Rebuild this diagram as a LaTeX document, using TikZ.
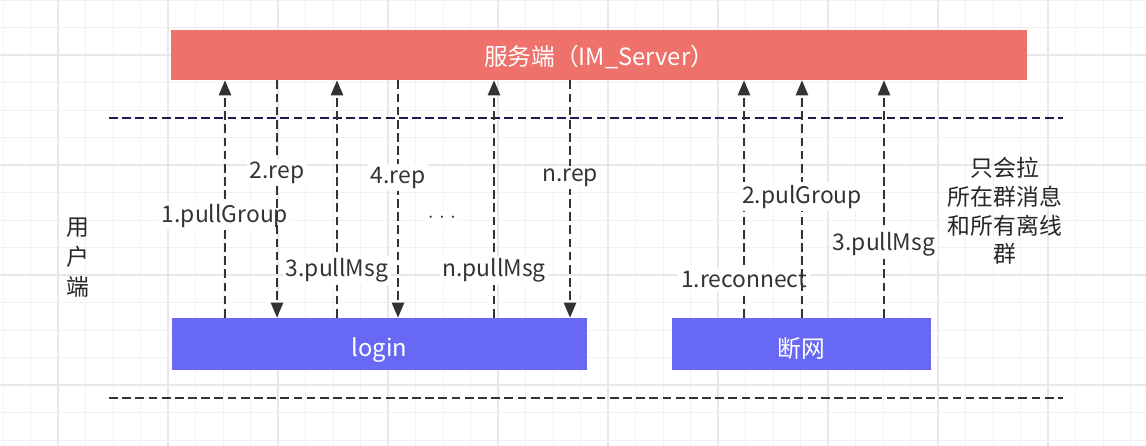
\documentclass[tikz,border=0pt]{standalone}
\usepackage{fontspec}
\setmainfont{Noto Sans CJK SC}
\usetikzlibrary{arrows.meta}

\definecolor{srvred}{HTML}{EE716C}
\definecolor{cliblue}{HTML}{6769F5}
\definecolor{arrowgray}{HTML}{333333}
\definecolor{navyline}{HTML}{1C1C4C}

\begin{document}
\begin{tikzpicture}[
		box/.style={rectangle, minimum height=1.04cm, inner sep=0pt, text=white, font=\fontsize{13.5}{16}\selectfont},
		flow/.style={draw=arrowgray, line width=0.8pt, dash pattern=on 5pt off 2.5pt, -{Triangle[width=7pt,length=8.5pt]}},
		sep/.style={line width=0.8pt, dash pattern=on 5pt off 2.5pt},
		lbl/.style={fill=white, inner sep=1.5pt, text=arrowgray, font=\fontsize{13}{16}\selectfont},
	]
		\useasboundingbox (0,0) rectangle (22.92,8.92);
		% grid paper
		\begin{scope}
			\clip (0,0) rectangle (22.92,8.92);
			\draw[black!5, line width=0.5pt, xshift=0.06cm, yshift=0.12cm] (-1.1,-1.1) grid[step=0.55] (23.1,9.9);
			\draw[black!9, line width=1pt, xshift=1.16cm, yshift=1.22cm] (-2.2,-2.2) grid[step=2.2] (22,8.8);
		\end{scope}

		\node[box, fill=srvred, minimum width=17.12cm, minimum height=1cm] (server) at (11.98,7.82) {\raisebox{-1.1pt}[\height][\depth]{服务端（IM\_Server）}};
		\node[box, fill=cliblue, minimum width=8.30cm] (login) at (7.59,2.04) {\raisebox{-3.4pt}[\height][\depth]{login}};
		\node[box, fill=cliblue, minimum width=5.18cm] (offline) at (16.03,2.04) {\raisebox{-2.3pt}[\height][\depth]{断网}};

		\draw[sep, navyline] (2.18,6.56) -- (21.26,6.56);
		\draw[sep, arrowgray] (2.18,0.96) -- (21.26,0.96);

		% login
		\draw[flow] (4.50,0 |- login.north) -- node[lbl, pos=0.43] {1.pullGroup} (4.50,0 |- server.south);
		\draw[flow] (5.54,0 |- server.south) -- node[lbl, pos=0.39] {2.rep} (5.54,0 |- login.north);
		\draw[flow] (6.74,0 |- login.north) -- node[lbl, pos=0.20] {3.pullMsg} (6.74,0 |- server.south);
		\draw[flow] (7.96,0 |- server.south) -- node[lbl, pos=0.41] {4.rep} (7.96,0 |- login.north);
		\node[lbl] (dots) at (8.84,4.56) {${\cdot}\hspace{3pt}{\cdot}\hspace{3pt}{\cdot}$};
		\draw[flow] (9.88,0 |- login.north) -- node[lbl, pos=0.20] {n.pullMsg} (9.88,0 |- server.south);
		\draw[flow] (11.40,0 |- server.south) -- node[lbl, pos=0.41] {n.rep} (11.40,0 |- login.north);

		% reconnect
		\draw[flow] (14.88,0 |- offline.north) -- node[lbl, pos=0.16] {1.reconnect} (14.88,0 |- server.south);
		\draw[flow] (16.04,0 |- offline.north) -- node[lbl, pos=0.51] {2.pulGroup} (16.04,0 |- server.south);
		\draw[flow] (17.68,0 |- offline.north) -- node[lbl, pos=0.31] {3.pullMsg} (17.68,0 |- server.south);

		\node[align=center, text=black!85, font=\fontsize{13}{17}\selectfont] (client) at (1.56,3.76) {用\\户\\端};
		\node[align=center, text=black!85, font=\fontsize{13}{16.3}\selectfont] (note) at (20.10,4.70) {只会拉\\所在群消息\\和所有离线\\群};
	\end{tikzpicture}
\end{document}
